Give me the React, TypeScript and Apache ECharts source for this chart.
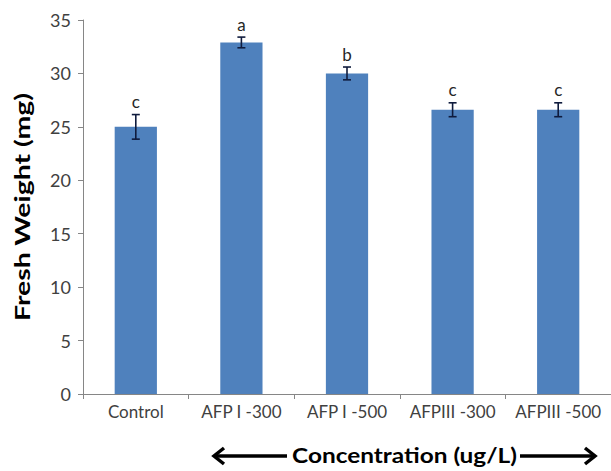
import React, { useEffect, useRef } from "react";
import * as echarts from "echarts";

const categories = ["Control", "AFP I -300", "AFP I -500", "AFPIII -300", "AFPIII -500"];
const means = [25.0, 32.9, 30.0, 26.6, 26.6];
const errors = [1.15, 0.5, 0.6, 0.65, 0.65];
const letters = ["c", "a", "b", "c", "c"];
const yTicks = { min: 0, max: 35, interval: 5 };

const FONT = "Lato, 'Open Sans', sans-serif";

export default function App() {
  const ref = useRef<HTMLDivElement>(null);
  useEffect(() => {
    document.body.style.margin = "0";
    const chart = echarts.init(ref.current!, null, { renderer: "svg" });
    const errData = categories.map((c, i) => [i, means[i] - errors[i], means[i] + errors[i]]);
    chart.setOption({
      animation: false,
      backgroundColor: "#ffffff",
      grid: { left: 83, right: 0, top: 20, bottom: 77 },
      xAxis: {
        type: "category",
        data: categories,
        boundaryGap: true,
        axisLine: { lineStyle: { color: "#868686", width: 1 } },
        axisTick: { show: true, length: 5, lineStyle: { color: "#868686" } },
        axisLabel: { color: "#404040", fontSize: 17, fontFamily: FONT, margin: 9, interval: 0 },
      },
      yAxis: {
        type: "value",
        min: yTicks.min,
        max: yTicks.max,
        interval: yTicks.interval,
        axisLine: { show: true, lineStyle: { color: "#868686", width: 1 } },
        axisTick: { show: true, length: 5, lineStyle: { color: "#868686" } },
        splitLine: { show: false },
        axisLabel: { color: "#404040", fontSize: 18, fontFamily: FONT, margin: 12 },
      },
      series: [
        {
          type: "bar",
          data: means,
          barWidth: "40%",
          itemStyle: { color: "#4F81BD" },
        },
        {
          type: "custom",
          data: errData,
          z: 10,
          renderItem: (params: any, api: any) => {
            const x = api.value(0);
            const pLo = api.coord([x, api.value(1)]);
            const pHi = api.coord([x, api.value(2)]);
            const cap = 4;
            const style = { stroke: "#0F1B3D", lineWidth: 1.6 };
            return {
              type: "group",
              children: [
                { type: "line", shape: { x1: pLo[0], y1: pLo[1], x2: pHi[0], y2: pHi[1] }, style },
                { type: "line", shape: { x1: pHi[0] - cap, y1: pHi[1], x2: pHi[0] + cap, y2: pHi[1] }, style },
                { type: "line", shape: { x1: pLo[0] - cap, y1: pLo[1], x2: pLo[0] + cap, y2: pLo[1] }, style },
                {
                  type: "text",
                  style: {
                    text: letters[params.dataIndex],
                    x: pHi[0],
                    y: pHi[1] - 13,
                    align: "center",
                    verticalAlign: "middle",
                    fontSize: 17,
                    fontFamily: FONT,
                    fill: "#262626",
                  },
                },
              ],
            };
          },
        },
      ],
      graphic: [
        {
          type: "text",
          x: 22,
          y: 207,
          rotation: Math.PI / 2,
          scaleX: 1.35,
          style: {
            text: "Fresh Weight (mg)",
            align: "center",
            verticalAlign: "middle",
            fontSize: 21,
            fontWeight: "bold",
            fontFamily: FONT,
            fill: "#000000",
          },
        },
        {
          type: "text",
          x: 292,
          y: 455,
          scaleX: 1.22,
          style: {
            text: "Concentration (ug/L)",
            align: "left",
            verticalAlign: "middle",
            fontSize: 20,
            fontWeight: "bold",
            fontFamily: FONT,
            fill: "#000000",
          },
        },
        { type: "line", shape: { x1: 214, y1: 456, x2: 287, y2: 456 }, style: { stroke: "#000", lineWidth: 3.5 } },
        { type: "polyline", shape: { points: [[224, 448], [214, 456], [224, 464]] }, style: { stroke: "#000", lineWidth: 3.5, fill: null } },
        { type: "line", shape: { x1: 520, y1: 456, x2: 595, y2: 456 }, style: { stroke: "#000", lineWidth: 3.5 } },
        { type: "polyline", shape: { points: [[585, 448], [595, 456], [585, 464]] }, style: { stroke: "#000", lineWidth: 3.5, fill: null } },
      ],
    });
    return () => chart.dispose();
  }, []);
  return <div ref={ref} style={{ width: 611, height: 471 }} />;
}
